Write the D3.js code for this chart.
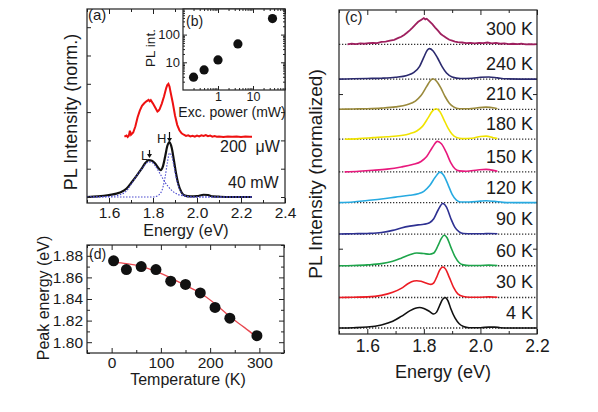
<!DOCTYPE html>
<html><head><meta charset="utf-8">
<script src="https://cdn.jsdelivr.net/npm/d3@7"></script>
<style>
body{margin:0;background:#fff}
svg{display:block}
text{font-family:"Liberation Sans",Arial,Helvetica,sans-serif;fill:#1a1a1a}
</style>
</head><body>
<svg id="fig" width="598" height="412"></svg>
<script>
// ---------------- DATA ----------------
// Panel (a): PL spectra, energy (eV) vs intensity (norm., stacked units)
const a40mW = [[1.50,0.0],[1.55,0.02],[1.60,0.07],[1.65,0.16],[1.68,0.30],[1.705,0.54],[1.73,0.80],[1.75,1.02],[1.765,1.20],[1.78,1.30],[1.795,1.28],[1.81,1.18],[1.825,1.02],[1.835,0.95],[1.845,1.08],[1.855,1.42],[1.865,1.80],[1.875,1.94],[1.885,1.74],[1.895,1.30],[1.905,0.82],[1.915,0.46],[1.93,0.16],[1.945,0.05],[1.97,0.02],[2.00,0.03],[2.03,0.08],[2.05,0.07],[2.07,0.02],[2.10,0.01],[2.15,0.0],[2.25,0.0]];
const a200uW = [[1.67,2.13],[1.68,2.17],[1.685,2.12],[1.69,2.16],[1.695,2.34],[1.70,2.20],[1.71,2.28],[1.72,2.50],[1.73,2.82],[1.74,3.05],[1.75,3.22],[1.76,3.31],[1.77,3.38],[1.78,3.43],[1.785,3.38],[1.79,3.42],[1.80,3.30],[1.81,3.16],[1.82,3.02],[1.825,3.05],[1.83,3.10],[1.84,3.30],[1.85,3.55],[1.86,3.85],[1.865,3.96],[1.87,4.00],[1.875,3.90],[1.88,3.70],[1.89,3.32],[1.90,2.88],[1.91,2.55],[1.92,2.36],[1.93,2.25],[1.94,2.20],[1.95,2.16],[1.96,2.18],[1.97,2.14],[1.98,2.16],[1.99,2.13],[2.00,2.17],[2.01,2.14],[2.02,2.18],[2.03,2.16],[2.04,2.19],[2.05,2.15],[2.06,2.17],[2.07,2.13],[2.08,2.15],[2.09,2.13],[2.10,2.14],[2.12,2.12],[2.14,2.14],[2.16,2.13],[2.18,2.14],[2.20,2.12],[2.22,2.14],[2.24,2.13],[2.25,2.13]];
const aFitL = [[1.50,0.0],[1.60,0.02],[1.65,0.08],[1.68,0.22],[1.705,0.50],[1.73,0.80],[1.75,1.00],[1.765,1.15],[1.78,1.24],[1.795,1.22],[1.81,1.10],[1.83,0.85],[1.85,0.58],[1.87,0.36],[1.89,0.20],[1.91,0.10],[1.94,0.04],[1.97,0.01],[2.00,0.0],[2.25,0.0]];
const aFitH = [[1.50,0.0],[1.80,0.0],[1.82,0.04],[1.84,0.22],[1.855,0.70],[1.865,1.20],[1.875,1.55],[1.885,1.45],[1.895,1.10],[1.905,0.70],[1.915,0.40],[1.93,0.14],[1.95,0.03],[1.97,0.0],[2.25,0.0]];
const aXTicks = [1.6,1.8,2.0,2.2,2.4];
const aXMinor = [1.5,1.7,1.9,2.1,2.3];
const aYTicks = [0,1,2,3,4,5,6];

// Panel (b): PL intensity vs excitation power
const powerMW = [0.2, 0.4, 1, 3.7, 36];
const plInt = [2.9, 5.3, 12.2, 46, 380];
const bXTicks = [1, 10];
const bYTicks = [10, 100];

// Panel (c): temperature-dependent spectra (normalized)
const tempLabels = ["300 K","240 K","210 K","180 K","150 K","120 K","90 K","60 K","30 K","4 K"];
const tempOffsets = [9.3, 8.16, 7.17, 6.19, 5.12, 4.11, 3.08, 2.04, 1.0, 0];
const s300 = [[1.53,0.00],[1.545,0.02],[1.56,0.01],[1.575,0.03],[1.59,0.02],[1.605,0.04],[1.62,0.05],[1.635,0.04],[1.65,0.08],[1.665,0.09],[1.68,0.12],[1.695,0.15],[1.71,0.21],[1.72,0.25],[1.73,0.31],[1.74,0.38],[1.75,0.46],[1.76,0.55],[1.77,0.65],[1.78,0.74],[1.79,0.80],[1.80,0.86],[1.805,0.82],[1.81,0.84],[1.82,0.75],[1.83,0.66],[1.84,0.55],[1.85,0.45],[1.86,0.34],[1.87,0.27],[1.88,0.21],[1.89,0.15],[1.90,0.12],[1.91,0.09],[1.92,0.07],[1.935,0.06],[1.95,0.04],[1.965,0.05],[1.98,0.03],[1.995,0.05],[2.01,0.04],[2.025,0.06],[2.04,0.03],[2.055,0.05],[2.07,0.02],[2.085,0.03],[2.10,0.01],[2.115,0.02],[2.13,0.01],[2.145,0.02],[2.16,0.00],[2.175,0.01],[2.19,0.00],[2.20,0.01]];
const s240 = [[1.50,0.0],[1.55,0.01],[1.60,0.02],[1.65,0.03],[1.70,0.06],[1.74,0.12],[1.765,0.22],[1.785,0.42],[1.80,0.72],[1.812,0.95],[1.82,1.00],[1.832,0.93],[1.848,0.70],[1.865,0.40],[1.88,0.20],[1.90,0.07],[1.93,0.02],[1.97,0.03],[2.00,0.06],[2.03,0.07],[2.06,0.04],[2.09,0.01],[2.20,0.0]];
const s210 = [[1.50,0.0],[1.55,0.01],[1.60,0.02],[1.65,0.04],[1.70,0.08],[1.74,0.15],[1.77,0.27],[1.79,0.45],[1.81,0.75],[1.822,0.93],[1.832,1.00],[1.845,0.92],[1.86,0.70],[1.875,0.42],[1.89,0.20],[1.905,0.08],[1.925,0.02],[1.96,0.02],[1.99,0.05],[2.02,0.07],[2.05,0.04],[2.06,0.02]];
const s180 = [[1.52,0.0],[1.57,0.02],[1.62,0.05],[1.67,0.08],[1.72,0.12],[1.75,0.18],[1.775,0.27],[1.795,0.42],[1.815,0.70],[1.83,0.92],[1.843,1.00],[1.857,0.90],[1.87,0.66],[1.885,0.37],[1.90,0.16],[1.915,0.06],[1.935,0.02],[1.97,0.03],[2.00,0.09],[2.02,0.10],[2.045,0.05],[2.06,0.02]];
const s150 = [[1.52,0.0],[1.57,0.02],[1.62,0.05],[1.67,0.09],[1.72,0.16],[1.76,0.24],[1.79,0.34],[1.81,0.50],[1.83,0.80],[1.848,1.00],[1.862,0.92],[1.88,0.62],[1.895,0.30],[1.91,0.10],[1.925,0.03],[1.95,0.02],[1.99,0.06],[2.02,0.08],[2.05,0.04],[2.06,0.02]];
const s120 = [[1.50,0.0],[1.55,0.02],[1.60,0.07],[1.65,0.12],[1.70,0.18],[1.75,0.24],[1.78,0.29],[1.80,0.37],[1.82,0.55],[1.84,0.83],[1.857,1.00],[1.87,0.90],[1.885,0.60],[1.90,0.27],[1.915,0.08],[1.93,0.02],[1.96,0.02],[2.00,0.05],[2.02,0.06],[2.05,0.04],[2.08,0.01],[2.12,0.0],[2.20,0.0]];
const s90 = [[1.50,0.0],[1.55,0.01],[1.60,0.02],[1.65,0.05],[1.69,0.12],[1.72,0.20],[1.75,0.26],[1.78,0.30],[1.80,0.32],[1.82,0.37],[1.835,0.50],[1.85,0.78],[1.867,1.00],[1.88,0.88],[1.895,0.52],[1.91,0.22],[1.925,0.07],[1.94,0.02],[1.97,0.01],[2.01,0.01],[2.03,0.02],[2.06,0.01]];
const s60 = [[1.50,0.0],[1.55,0.01],[1.60,0.03],[1.65,0.07],[1.69,0.15],[1.72,0.25],[1.75,0.36],[1.775,0.42],[1.80,0.40],[1.82,0.38],[1.835,0.42],[1.85,0.66],[1.862,0.90],[1.872,1.00],[1.882,0.92],[1.895,0.62],[1.91,0.30],[1.925,0.10],[1.94,0.03],[1.96,0.01],[2.00,0.01],[2.03,0.02],[2.06,0.01]];
const s30 = [[1.50,0.0],[1.55,0.01],[1.60,0.02],[1.65,0.07],[1.69,0.17],[1.72,0.30],[1.745,0.46],[1.765,0.54],[1.775,0.55],[1.79,0.53],[1.81,0.47],[1.825,0.43],[1.835,0.48],[1.845,0.66],[1.855,0.88],[1.867,1.00],[1.877,0.93],[1.89,0.66],[1.905,0.33],[1.92,0.12],[1.94,0.03],[1.96,0.01],[2.00,0.01],[2.03,0.02],[2.06,0.01]];
const s4 = [[1.50,0.0],[1.55,0.01],[1.60,0.03],[1.65,0.10],[1.69,0.22],[1.72,0.38],[1.75,0.56],[1.77,0.65],[1.785,0.67],[1.80,0.64],[1.82,0.54],[1.835,0.46],[1.845,0.52],[1.855,0.72],[1.865,0.92],[1.875,1.00],[1.885,0.90],[1.895,0.64],[1.91,0.33],[1.925,0.14],[1.94,0.05],[1.96,0.01],[2.00,0.01],[2.03,0.03],[2.05,0.03],[2.07,0.01],[2.10,0.0],[2.20,0.0]];
const cXTicks = [1.6,1.8,2.0,2.2];
const cXMinor = [1.5,1.7,1.9,2.1];
const cYTicks = [2.6, 7.67];

// Panel (d): peak energy vs temperature
const tempK = [4,30,60,90,120,150,180,210,240,295];
const peakE = [1.8754,1.8672,1.870,1.8672,1.8565,1.8535,1.8456,1.8322,1.8222,1.806];
const fitT = [4,30,60,90,120,150,180,210,240,270,295];
const fitE = [1.8739,1.8728,1.8702,1.8655,1.8595,1.8525,1.8455,1.8355,1.8237,1.8135,1.8045];
const dXTicks = [0,100,200,300];
const dXMinor = [-50,50,150,250,350];
const dYTicks = [1.80,1.82,1.84,1.86,1.88];
const dYMinor = [1.79,1.81,1.83,1.85,1.87,1.89];

// ---------------- STYLE ----------------
const specColors = ["#9e1f5e","#2b2a6e","#9a8a3c","#f0e300","#e8197d","#27aae1","#2e3192","#1ea54b","#ec1c24","#111111"];
const FONT = '"Liberation Sans",Arial,Helvetica,sans-serif';
const svg = d3.select("#fig");

function axis(g, scale, orient, pos, values, size, fmt, fs, pad) {
  const gen = {bottom:d3.axisBottom, top:d3.axisTop, left:d3.axisLeft, right:d3.axisRight}[orient](scale)
    .tickValues(values).tickSizeInner(-size).tickSizeOuter(0).tickPadding(pad||0)
    .tickFormat(fmt || (() => ""));
  const tr = (orient === "bottom" || orient === "top") ? `translate(0,${pos})` : `translate(${pos},0)`;
  const a = g.append("g").attr("transform", tr).call(gen)
    .attr("font-family", FONT).attr("font-size", fs || 10);
  a.select(".domain").remove();
  a.selectAll("line").attr("stroke", "#222").attr("stroke-width", 1);
  a.selectAll("text").attr("fill", "#1a1a1a");
  return a;
}
function border(g, x, y) {
  const [x0, x1] = x.range(), [y0, y1] = y.range();
  g.append("rect").attr("x", Math.min(x0,x1)).attr("y", Math.min(y0,y1))
    .attr("width", Math.abs(x1-x0)).attr("height", Math.abs(y1-y0))
    .attr("fill", "none").attr("stroke", "#222").attr("stroke-width", 1.2);
}
function label(g, txt, x, y, fs, anchor, rot) {
  const t = g.append("text").attr("font-size", fs).attr("text-anchor", anchor || "start").text(txt);
  if (rot) t.attr("transform", `translate(${x},${y}) rotate(${rot})`);
  else t.attr("x", x).attr("y", y);
  return t;
}

// ---------------- PANEL (a) ----------------
{
  const g = svg.append("g");
  const x = d3.scaleLinear().domain([1.5, 2.4]).range([87, 285]);
  const y = d3.scaleLinear().domain([-0.212, 6.643]).range([203, 9]);
  const line = d3.line().x(d => x(d[0])).y(d => y(d[1])).curve(d3.curveMonotoneX);
  const lin = d3.line().x(d => x(d[0])).y(d => y(d[1]));
  g.append("path").attr("d", lin(a200uW)).attr("fill","none").attr("stroke","#ee1111").attr("stroke-width",2);
  g.append("path").attr("d", line(a40mW)).attr("fill","none").attr("stroke","#111").attr("stroke-width",2.2);
  [aFitL, aFitH].forEach(s => g.append("path").attr("d", line(s)).attr("fill","none")
      .attr("stroke","#4a4ad0").attr("stroke-width",1.1).attr("stroke-dasharray","1.5,1.5"));
  const fmt = d => d3.format(".1f")(d);
  axis(g, x, "bottom", 203, aXTicks, 5, fmt, 15.5, 3.5);
  axis(g, x, "bottom", 203, aXMinor, 3);
  axis(g, x, "top", 9, aXTicks, 5);
  axis(g, x, "top", 9, aXMinor, 3);
  axis(g, y, "left", 87, aYTicks, 4);
  axis(g, y, "right", 285, aYTicks, 4);
  border(g, x, y);
  label(g, "Energy (eV)", 186, 236, 16, "middle");
  label(g, "PL Intensity (norm.)", 77, 112, 18, "middle", -90);
  label(g, "(a)", 88, 20, 15);
  label(g, "200\u00a0 μW", 220, 152, 16);
  label(g, "40 mW", 228, 188, 16);
  label(g, "H", 157, 143, 13);
  label(g, "L", 141, 160, 12.5);
  // arrows
  const arr = (ax, ay0, ay1) => {
    g.append("line").attr("x1", ax).attr("x2", ax).attr("y1", ay0).attr("y2", ay1 - 3)
      .attr("stroke", "#111").attr("stroke-width", 1.2);
    g.append("path").attr("d", `M${ax-2.5},${ay1-4}L${ax+2.5},${ay1-4}L${ax},${ay1}Z`).attr("fill", "#111");
  };
  arr(169.5, 132, 142);
  arr(149.5, 150, 158);
}

// ---------------- PANEL (b) inset ----------------
{
  const g = svg.append("g");
  const x = d3.scaleLog().domain([0.1, 82]).range([183, 285]);
  const y = d3.scaleLog().domain([1, 840]).range([90, 9]);
  g.append("rect").attr("x", 183).attr("y", 9).attr("width", 102).attr("height", 81).attr("fill", "#fff");
  const minorX = [], minorY = [];
  [0.1, 1, 10].forEach(dc => { for (let k = 2; k <= 9; k++) { const v = dc * k; if (v < 82) minorX.push(v); } });
  [1, 10, 100].forEach(dc => { for (let k = 2; k <= 9; k++) { const v = dc * k; if (v < 840) minorY.push(v); } });
  axis(g, x, "bottom", 90, bXTicks, 4, d => d, 12.5, 2.5);
  axis(g, x, "bottom", 90, minorX, 2);
  axis(g, x, "top", 9, bXTicks, 4);
  axis(g, x, "top", 9, minorX, 2);
  axis(g, y, "left", 183, bYTicks, 4, d => d, 13, 3);
  axis(g, y, "left", 183, minorY, 2);
  axis(g, y, "right", 285, bYTicks, 4);
  axis(g, y, "right", 285, minorY, 2);
  g.selectAll("circle").data(powerMW).join("circle")
    .attr("cx", d => x(d)).attr("cy", (d, i) => y(plInt[i])).attr("r", 4.6).attr("fill", "#111");
  border(g, x, y);
  label(g, "(b)", 186, 26, 14);
  label(g, "PL int.", 155, 48, 13.5, "middle", -90);
  label(g, "Exc. power (mW)", 232, 116.5, 14, "middle");
}

// ---------------- PANEL (c) ----------------
{
  const g = svg.append("g");
  const x = d3.scaleLinear().domain([1.5, 2.2]).range([339, 537]);
  const y = d3.scaleLinear().domain([-0.197, 10.426]).range([334, 10]);
  const spectra = [s300, s240, s210, s180, s150, s120, s90, s60, s30, s4];
  spectra.forEach((s, i) => {
    const off = tempOffsets[i];
    const base = d3.line().x(d => x(d)).y(() => y(off));
    g.append("path").attr("d", base(x.domain())).attr("fill","none")
      .attr("stroke","#333").attr("stroke-width",1.3).attr("stroke-dasharray","1.3,1.7");
    const ln = d3.line().x(d => x(d[0])).y(d => y(d[1] + off))
      .curve(i === 0 ? d3.curveLinear : d3.curveMonotoneX);
    g.append("path").attr("d", ln(s)).attr("fill","none")
      .attr("stroke", specColors[i]).attr("stroke-width", i === 0 ? 1.8 : 1.6);
    label(g, tempLabels[i], 533, y(off) - 9, 18, "end");
  });
  const fmt = d => d3.format(".1f")(d);
  axis(g, x, "bottom", 334, cXTicks, 5, fmt, 17.5, 6);
  axis(g, x, "bottom", 334, cXMinor, 3);
  axis(g, x, "top", 10, cXTicks, 5);
  axis(g, x, "top", 10, cXMinor, 3);
  axis(g, y, "left", 339, cYTicks, 4);
  axis(g, y, "right", 537, cYTicks, 4);
  border(g, x, y);
  label(g, "(c)", 345, 22, 15);
  label(g, "Energy (eV)", 443, 378, 18, "middle");
  label(g, "PL Intensity (normalized)", 322, 174, 19, "middle", -90);
}

// ---------------- PANEL (d) ----------------
{
  const g = svg.append("g");
  const x = d3.scaleLinear().domain([-50, 350]).range([87, 284]);
  const y = d3.scaleLinear().domain([1.79, 1.89]).range([353, 245]);
  const fit = fitT.map((t, i) => [t, fitE[i]]);
  g.append("path").attr("d", d3.line().x(d => x(d[0])).y(d => y(d[1])).curve(d3.curveMonotoneX)(fit))
    .attr("fill","none").attr("stroke","#e8474f").attr("stroke-width",1.3);
  g.selectAll("circle").data(tempK).join("circle")
    .attr("cx", d => x(d)).attr("cy", (d, i) => y(peakE[i])).attr("r", 5.5).attr("fill", "#111");
  axis(g, x, "bottom", 353, dXTicks, 5, d => d, 15.5, 3.5);
  axis(g, x, "bottom", 353, dXMinor, 3);
  axis(g, x, "top", 245, dXTicks, 5);
  axis(g, x, "top", 245, dXMinor, 3);
  axis(g, y, "left", 87, dYTicks, 5, d => d3.format(".2f")(d), 15.5, 4);
  axis(g, y, "left", 87, dYMinor, 3);
  axis(g, y, "right", 284, dYTicks, 5);
  axis(g, y, "right", 284, dYMinor, 3);
  border(g, x, y);
  label(g, "(d)", 89, 259, 14);
  label(g, "Temperature (K)", 188, 385, 16, "middle");
  label(g, "Peak energy (eV)", 49, 298, 16, "middle", -90);
}
</script>
</body></html>
